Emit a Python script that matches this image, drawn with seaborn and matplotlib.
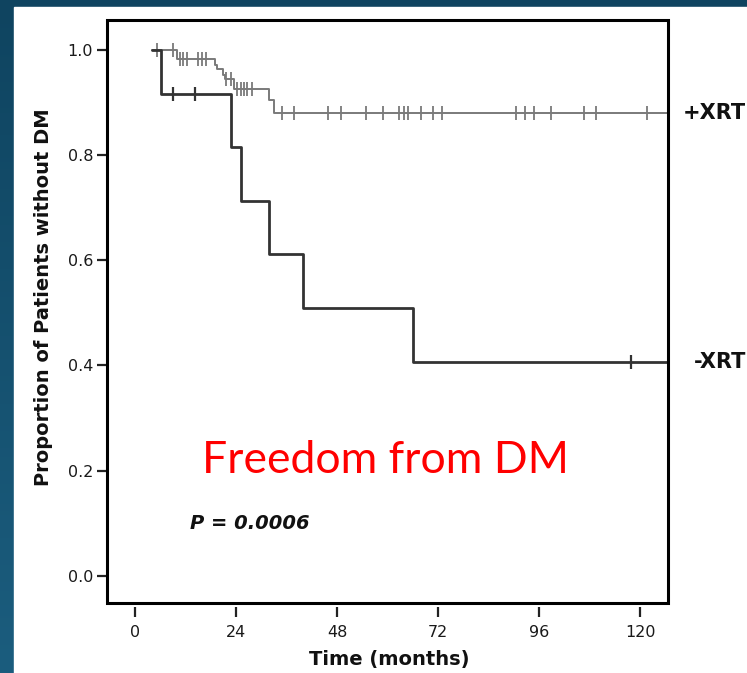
import numpy as np
import pandas as pd
import matplotlib
matplotlib.use("Agg")
import matplotlib.pyplot as plt
from matplotlib.patches import Rectangle
import seaborn as sns

# Kaplan-Meier step curves (time in months, proportion without DM)
xrt_time = [4.0, 9.9, 18.9, 19.4, 20.8, 21.3, 23.6, 31.9, 32.9, 127.0]
xrt_surv = [1.0, 0.982, 0.972, 0.963, 0.953, 0.944, 0.926, 0.904, 0.880, 0.880]
noxrt_time = [4.0, 6.1, 22.9, 25.1, 31.9, 40.0, 66.0, 127.0]
noxrt_surv = [1.0, 0.917, 0.815, 0.713, 0.611, 0.509, 0.407, 0.407]

# censored observations
xrt_cens = [5.2, 9.0, 10.6, 11.3, 12.3, 14.9, 15.8, 16.8, 21.7, 22.9,
            24.3, 25.1, 25.8, 26.7, 27.7, 34.9, 37.8, 45.9, 48.9, 54.9,
            58.9, 62.8, 63.8, 64.8, 68.0, 70.9, 72.9, 90.6, 92.6, 94.8,
            98.7, 106.7, 109.5, 121.6]
noxrt_cens = [9.0, 14.2, 117.7]

x_ticks = [0, 24, 48, 72, 96, 120]
y_ticks = [0.0, 0.2, 0.4, 0.6, 0.8, 1.0]


def level_at(times, surv, t):
    idx = np.searchsorted(times, t, side="right") - 1
    return np.asarray(surv)[idx]


sns.set_style("white")
fig = plt.figure(figsize=(7.47, 6.73), dpi=100)

# slide background: dark blue band on top and left
bg = fig.add_axes([0, 0, 1, 1], zorder=-10)
grad = np.linspace(0, 1, 256).reshape(-1, 1)
bg.imshow(grad, aspect="auto", cmap=matplotlib.colors.LinearSegmentedColormap.from_list(
    "slide", ["#0f4460", "#1b5d7e"]), extent=[0, 1, 0, 1], origin="upper")
bg.add_patch(Rectangle((14 / 747, 0), 1, 1 - 7 / 673, color="white"))
bg.set_xlim(0, 1)
bg.set_ylim(0, 1)
bg.axis("off")

ax = fig.add_axes([107 / 747, 1 - 603 / 673, (668 - 107) / 747, (603 - 20) / 673])
ax.set_facecolor("none")

df_xrt = pd.DataFrame({"t": xrt_time, "s": xrt_surv})
df_no = pd.DataFrame({"t": noxrt_time, "s": noxrt_surv})
sns.lineplot(data=df_xrt, x="t", y="s", ax=ax, estimator=None, drawstyle="steps-post",
             color="#7a7a7a", lw=1.4)
sns.lineplot(data=df_no, x="t", y="s", ax=ax, estimator=None, drawstyle="steps-post",
             color="#333333", lw=2.0)

cx = pd.DataFrame({"t": xrt_cens, "s": level_at(xrt_time, xrt_surv, xrt_cens)})
cn = pd.DataFrame({"t": noxrt_cens, "s": level_at(noxrt_time, noxrt_surv, noxrt_cens)})
sns.scatterplot(data=cx, x="t", y="s", ax=ax, marker="|", s=90, color="#7a7a7a", linewidth=1.3)
sns.scatterplot(data=cn, x="t", y="s", ax=ax, marker="|", s=90, color="#333333", linewidth=1.6)

ax.set_xlim(-6.65, 126.6)
ax.set_ylim(-0.052, 1.057)
ax.set_xticks(x_ticks)
ax.set_yticks(y_ticks)
ax.set_yticklabels([f"{v:.1f}" for v in y_ticks])

for s in ax.spines.values():
    s.set_visible(False)
ax.spines["bottom"].set_position(("outward", 3))
ax.add_patch(Rectangle((0, 0), 1, 1, transform=ax.transAxes, fill=False,
                       lw=2.2, color="black", clip_on=False, zorder=5))
ax.tick_params(axis="both", direction="out", length=7, width=1.6, color="#222222",
               labelsize=11.5, labelcolor="#1a1a1a", bottom=True, left=True)
ax.tick_params(axis="x", pad=6)
ax.tick_params(axis="y", pad=3)

ax.set_xlabel("Time (months)", fontsize=14, fontweight="bold", color="#111111")
ax.set_ylabel("Proportion of Patients without DM", fontsize=14, fontweight="bold",
              color="#111111")
ax.xaxis.set_label_coords(0.503, -0.08)
ax.yaxis.set_label_coords(-0.096, 0.525)

ax.annotate("+XRT", (0.999, 0.88), xycoords=("figure fraction", "data"), fontsize=15,
            fontweight="bold", va="center", ha="right", color="#111111")
ax.annotate("-XRT", (0.999, 0.407), xycoords=("figure fraction", "data"), fontsize=15,
            fontweight="bold", va="center", ha="right", color="#111111")

ax.text(16, 0.22, "Freedom from DM", color="red", fontsize=32, family="Lato",
        va="center", ha="left")
ax.text(13, 0.1, "P = 0.0006", fontsize=14, fontweight="bold", style="italic",
        va="center", ha="left", color="#111111")

fig.savefig("out.png", dpi=100)
